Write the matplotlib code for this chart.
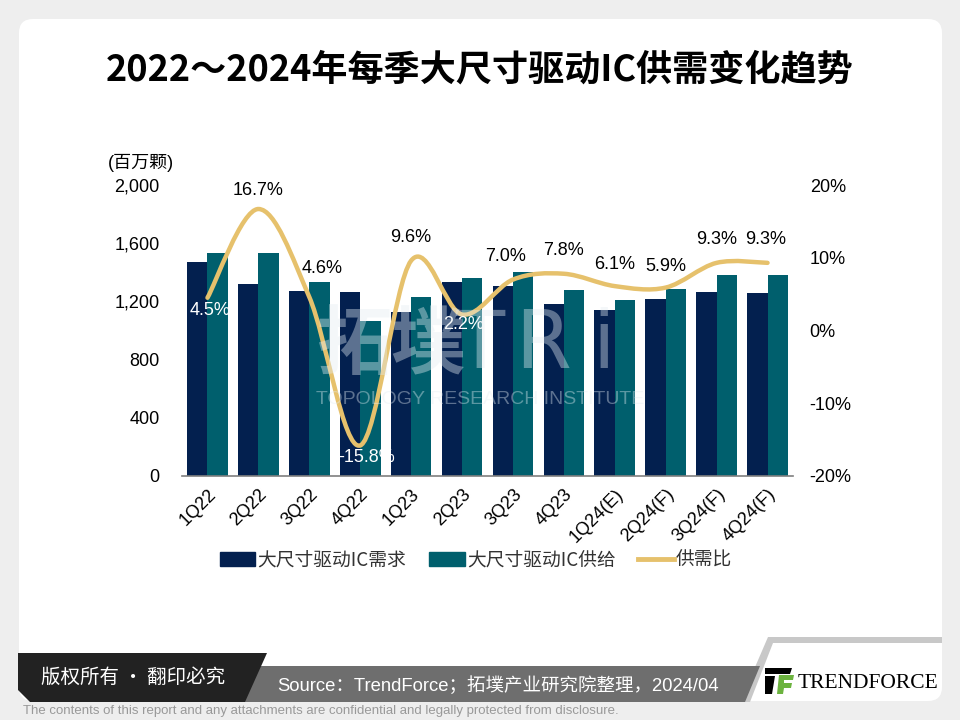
import numpy as np
import matplotlib
matplotlib.use("Agg")
import matplotlib.pyplot as plt
from matplotlib.patches import FancyBboxPatch, Polygon, PathPatch, Rectangle
from matplotlib.path import Path
from matplotlib.lines import Line2D
from matplotlib.ticker import FuncFormatter

plt.rcParams["font.family"] = ["Liberation Sans", "Noto Sans CJK SC", "DejaVu Sans"]

quarters = ["1Q22", "2Q22", "3Q22", "4Q22", "1Q23", "2Q23", "3Q23", "4Q23",
            "1Q24(E)", "2Q24(F)", "3Q24(F)", "4Q24(F)"]
demand = [1473, 1317, 1271, 1267, 1125, 1331, 1308, 1184, 1141, 1214, 1265, 1260]
supply = [1535, 1535, 1331, 1065, 1230, 1361, 1400, 1276, 1210, 1285, 1381, 1380]
ratio = [4.5, 16.7, 4.6, -15.8, 9.6, 2.2, 7.0, 7.8, 6.1, 5.9, 9.3, 9.3]

navy = "#03204f"
teal = "#005f6d"
gold = "#e6c16c"

fig = plt.figure(figsize=(9.6, 7.2), dpi=100)
fig.patch.set_facecolor("#eeeeee")

# background / frame layer in pixel coords
bg = fig.add_axes([0, 0, 1, 1], zorder=-5)
bg.set_xlim(0, 960)
bg.set_ylim(720, 0)
bg.axis("off")
bg.add_patch(FancyBboxPatch((19, 19), 923, 682, boxstyle="round,pad=0,rounding_size=14",
                            fc="white", ec="none"))

# chart
ax = fig.add_axes([182 / 960, 1 - 476 / 720, (793 - 182) / 960, (476 - 185) / 720], zorder=1)
ax.patch.set_alpha(0)
x = np.arange(len(quarters))
w = 0.4
ax.bar(x - w / 2, demand, w, color=navy, label="大尺寸驱动IC需求")
ax.bar(x + w / 2, supply, w, color=teal, label="大尺寸驱动IC供给")
ax.set_xlim(-0.5, len(quarters) - 0.5)
ax.set_ylim(0, 2000)
ax.set_yticks([0, 400, 800, 1200, 1600, 2000])
ax.yaxis.set_major_formatter(FuncFormatter(lambda v, p: f"{int(v):,}"))
for s in ["top", "right", "left"]:
    ax.spines[s].set_visible(False)
ax.spines["bottom"].set_color("#7f7f7f")
ax.spines["bottom"].set_linewidth(1.2)
ax.tick_params(axis="y", length=0, pad=16, labelsize=13)
ax.tick_params(axis="x", length=0, pad=7, labelsize=13)
ax.set_xticks(x)
ax.set_xticklabels(quarters, rotation=45, ha="right", va="top", rotation_mode="anchor")

ax2 = ax.twinx()
ax2.set_ylim(-20, 20)
ax2.set_yticks([-20, -10, 0, 10, 20])
ax2.yaxis.set_major_formatter(FuncFormatter(lambda v, p: f"{int(v)}%"))
for s in ["top", "right", "left", "bottom"]:
    ax2.spines[s].set_visible(False)
ax2.tick_params(axis="y", length=0, pad=12, labelsize=13)

# smoothed ratio line (catmull-rom drawn as bezier path)
pts = np.column_stack([x, ratio]).astype(float)
verts = [tuple(pts[0])]
codes = [Path.MOVETO]
for i in range(len(pts) - 1):
    p0 = pts[i - 1] if i > 0 else pts[i]
    p1 = pts[i]
    p2 = pts[i + 1]
    p3 = pts[i + 2] if i + 2 < len(pts) else pts[i + 1]
    c1 = p1 + (p2 - p0) / 6
    c2 = p2 - (p3 - p1) / 6
    verts += [tuple(c1), tuple(c2), tuple(p2)]
    codes += [Path.CURVE4] * 3
ax2.add_patch(PathPatch(Path(verts, codes), fc="none", ec=gold, lw=3.2, capstyle="round",
                        joinstyle="round", zorder=3))

# ratio labels: (dx, dy) in pixels, colour
lab_pos = [(3, -13, "white"), (0, 19, "black"), (13, 29, "black"), (6, -12, "white"),
           (0, 23, "black"), (2, -10, "white"), (-7, 23, "black"), (0, 23, "black"),
           (0, 22, "black"), (0, 21, "black"), (0, 23, "black"), (-2, 23, "black")]
for i, r in enumerate(ratio):
    dx, dy, c = lab_pos[i]
    ax2.annotate(f"{r:.1f}%", (i, r), xytext=(dx * 0.72, dy * 0.72), textcoords="offset points",
                 ha="center", va="center", fontsize=13, color=c, zorder=5)

# legend
handles = [Rectangle((0, 0), 1, 1, color=navy), Rectangle((0, 0), 1, 1, color=teal),
           Line2D([0], [0], color=gold, lw=3.5)]
fig.legend(handles, ["大尺寸驱动IC需求", "大尺寸驱动IC供给", "供需比"], loc="center",
           bbox_to_anchor=(476 / 960, 1 - 560 / 720), ncol=3, frameon=False,
           prop={"family": ["Noto Sans CJK SC"], "size": 13.5}, handlelength=1.9,
           handleheight=0.75, handletextpad=0.12, columnspacing=1.2, labelcolor="#333333")

# title and unit
fig.text(480 / 960, 1 - 70 / 720, "2022～2024年每季大尺寸驱动IC供需变化趋势", ha="center",
         va="center", fontsize=26, fontweight="bold", family=["Noto Sans CJK SC"])
fig.text(108 / 960, 1 - 163 / 720, "(百万颗)", ha="left", va="center", fontsize=13,
         family=["Liberation Sans", "Noto Sans CJK SC"])

# watermark
wm = dict(color="#e4edf2", alpha=0.4, zorder=6)
fig.text(316 / 960, 1 - 346 / 720, "拓墣", ha="left", va="center", fontsize=54,
         fontweight="bold", family=["Noto Sans CJK SC"], **wm)
for ch, px in [("T", 455), ("R", 515), ("i", 592)]:
    fig.text(px / 960, 1 - 346 / 720, ch, ha="left", va="center", fontsize=58,
             family=["DejaVu Sans"], **wm)
fig.text(316 / 960, 1 - 400 / 720, "TOPOLOGY RESEARCH INSTITUTE", ha="left", va="center",
         fontsize=14, **wm)

# footer
ov = fig.add_axes([0, 0, 1, 1], zorder=10)
ov.set_xlim(0, 960)
ov.set_ylim(720, 0)
ov.axis("off")
ov.add_patch(Polygon([(740, 702), (768, 637), (942, 637), (942, 643), (773, 643), (750, 702)],
                     closed=True, fc="#c8c8c8", ec="none"))
ov.add_patch(Polygon([(238, 666), (760, 666), (745, 702), (238, 702)], closed=True,
                     fc="#6e6e6e", ec="none"))
ov.add_patch(Polygon([(18, 653), (267, 653), (245, 702), (30, 702), (18, 690)], closed=True,
                     fc="#222222", ec="none"))
ov.text(133, 677, "版权所有 · 翻印必究", ha="center", va="center", fontsize=14,
        color="white", family=["Noto Sans CJK SC"])
ov.text(277, 686, "Source：TrendForce；拓墣产业研究院整理，2024/04", ha="left", va="center",
        fontsize=13.3, color="white", family=["Liberation Sans", "Noto Sans CJK SC"])
ov.text(23, 711, "The contents of this report and any attachments are confidential and legally "
        "protected from disclosure.", ha="left", va="center", fontsize=9.5, color="#999999")
# logo
ov.add_patch(Polygon([(765, 668), (792, 668), (790, 674), (765, 674)], closed=True,
                     fc="black", ec="none"))
ov.add_patch(Polygon([(765, 676), (775, 676), (772, 694), (765, 694)], closed=True,
                     fc="black", ec="none"))
ov.add_patch(Polygon([(779, 675), (794, 675), (793, 680), (784, 680), (784, 683), (792, 683),
                      (791, 688), (784, 688), (783, 694), (777, 694)], closed=True,
                     fc="#6cb33f", ec="none"))
ov.text(798, 683, "TRENDFORCE", ha="left", va="center", fontsize=15.5,
        family=["Liberation Serif"], color="black")

fig.savefig("out.png", dpi=100, facecolor=fig.get_facecolor())
